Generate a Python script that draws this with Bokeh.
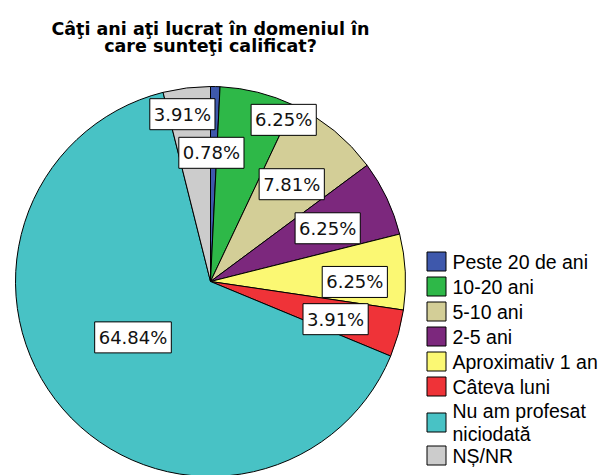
import math
from bokeh.plotting import figure
from bokeh.models import Range1d, ColumnDataSource
from bokeh.core.properties import value
from bokeh.embed import file_html
from bokeh.resources import INLINE

# ---------------- data ----------------
title_lines = ["Câţi ani aţi lucrat în domeniul în", "care sunteţi calificat?"]
categories = ["Peste 20 de ani", "10-20 ani", "5-10 ani", "2-5 ani",
              "Aproximativ 1 an", "Câteva luni", "Nu am profesat\nniciodată", "NȘ/NR"]
percents = [0.78, 6.25, 7.81, 6.25, 6.25, 3.91, 64.84, 3.91]
colors = ["#3E58AC", "#2EB848", "#D3CE97", "#7C287D",
          "#FBF873", "#EF3338", "#48C2C5", "#CCCCCC"]

# ---------------- layout / style ----------------
R = 195
label_r = [0.66, 0.91, 0.65, 0.66, 0.74, 0.67, 0.49, 0.87]   # label distance (fraction of radius)
label_da = [-1.0, 10.3, 0.5, 0.9, 3.0, 1.3, 5.0, -2.5]        # label angle nudge (deg, clockwise)
legend_y = [20, -5, -30, -55, -80, -105, -141, -174]

total = sum(percents)
starts, ends, lx, ly, labels = [], [], [], [], []
cum = 0.0
for i, v in enumerate(percents):
    s = cum / total
    e = (cum + v) / total
    starts.append(math.pi / 2 - 2 * math.pi * s)
    ends.append(math.pi / 2 - 2 * math.pi * e)
    mid = (s + e) / 2 * 360 + label_da[i]
    th = math.radians(mid)
    lx.append(label_r[i] * R * math.sin(th))
    ly.append(label_r[i] * R * math.cos(th))
    labels.append(f"{v:.2f}%")
    cum += v

src = ColumnDataSource(dict(start=starts, end=ends, color=colors,
                            lx=lx, ly=ly, lbl=labels,
                            cat=categories, legy=legend_y))

W, H = 603, 475
p = figure(width=W, height=H, x_range=Range1d(-210, W - 210), y_range=Range1d(281 - H, 281),
           output_backend="svg", toolbar_location=None, min_border=0,
           x_axis_location=None, y_axis_location=None)
p.grid.visible = False
p.outline_line_color = None
p.background_fill_color = "white"

p.wedge(x=0, y=0, radius=R, start_angle="start", end_angle="end", direction="clock",
        fill_color="color", line_color="black", line_width=1, source=src)

p.text(x="lx", y="ly", text="lbl", source=src, text_align="center", text_baseline="middle",
       text_font=value("DejaVu Sans"), text_font_size="18px", text_color="#111111",
       background_fill_color="white", border_line_color="black", border_line_width=1,
       padding=(4, 5))

# legend
p.rect(x=226, y="legy", width=19, height=19, fill_color="color", line_color="black",
       line_width=1, source=src)
p.text(x=242, y="legy", text="cat", source=src, text_baseline="middle",
       text_font=value("Liberation Sans"), text_font_size="19.5px", text_color="black",
       text_line_height=1.05)

# title
p.text(x=0, y=[253, 236], text=title_lines, text_align="center", text_baseline="alphabetic",
       text_font=value("DejaVu Sans"), text_font_style="bold", text_font_size="17.5px",
       text_color="black")

open("out.html", "w").write(file_html(p, INLINE))
